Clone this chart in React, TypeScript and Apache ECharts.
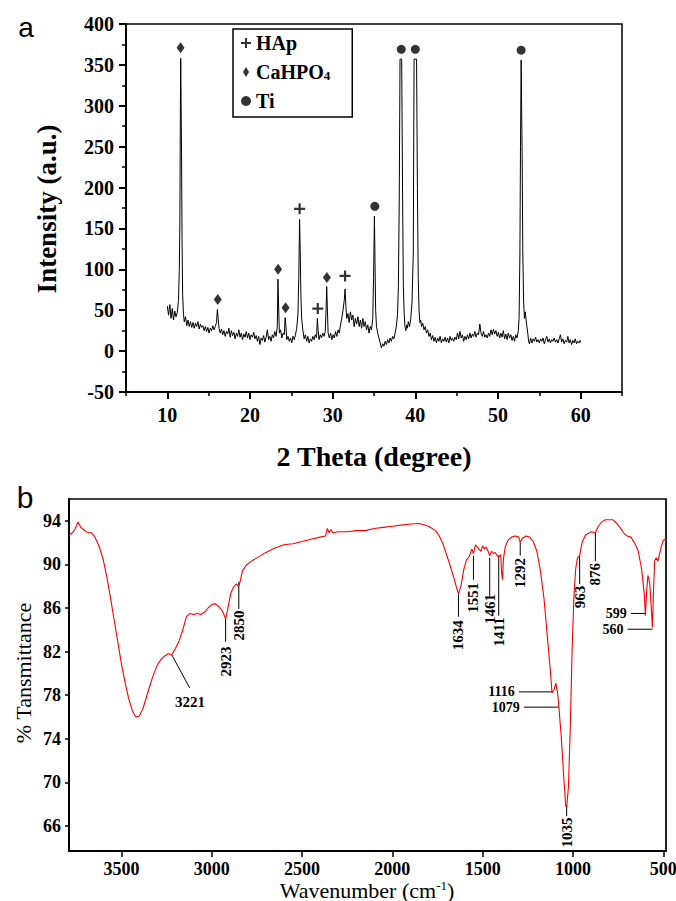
import { useEffect, useRef } from 'react';
import * as echarts from 'echarts';

const SERIF = '"Times New Roman", "Liberation Serif", serif';
const SANS = 'Arial, "Liberation Sans", sans-serif';

// ---- Panel a: XRD pattern [2theta, intensity] ----
const xrdPattern: number[][] = [
  [10.0, 55], [10.15, 44], [10.3, 57], [10.45, 40], [10.6, 52], [10.75, 38], [10.9, 49], [11.05, 42], [11.2, 47],
  [11.35, 62], [11.45, 100], [11.52, 160], [11.58, 300], [11.62, 358], [11.68, 358], [11.72, 240], [11.78, 138],
  [11.85, 70], [11.95, 45], [12.05, 36], [12.2, 42], [12.35, 31], [12.5, 38], [12.65, 30], [12.8, 36], [12.95, 29],
  [13.1, 35], [13.25, 28], [13.4, 34], [13.55, 30], [13.7, 36], [13.85, 27], [14.0, 33], [14.15, 29], [14.3, 31],
  [14.45, 25], [14.6, 30], [14.75, 24], [14.9, 29], [15.05, 22], [15.2, 28], [15.35, 25], [15.5, 31], [15.65, 26],
  [15.8, 30], [15.95, 35], [16.05, 51], [16.15, 40], [16.25, 28], [16.4, 22], [16.55, 27], [16.7, 20], [16.85, 25],
  [17.0, 18], [17.15, 24], [17.3, 21], [17.45, 28], [17.6, 17], [17.75, 25], [17.9, 19], [18.05, 23], [18.2, 15],
  [18.35, 22], [18.5, 18], [18.65, 26], [18.8, 17], [18.95, 22], [19.1, 14], [19.25, 21], [19.4, 17], [19.55, 24],
  [19.7, 16], [19.85, 22], [20.0, 14], [20.15, 20], [20.3, 17], [20.45, 23], [20.6, 15], [20.75, 19], [20.9, 12],
  [21.05, 18], [21.2, 8], [21.35, 16], [21.5, 13], [21.65, 19], [21.8, 11], [21.95, 17], [22.1, 26], [22.25, 14],
  [22.4, 18], [22.55, 12], [22.7, 20], [22.85, 16], [23.0, 24], [23.15, 18], [23.3, 30], [23.38, 88], [23.45, 60],
  [23.55, 22], [23.7, 26], [23.85, 16], [24.0, 22], [24.15, 20], [24.25, 41], [24.35, 30], [24.45, 14], [24.6, 18],
  [24.75, 12], [24.9, 16], [25.05, 10], [25.2, 18], [25.35, 14], [25.5, 20], [25.65, 28], [25.8, 45], [25.9, 90],
  [26.0, 161], [26.08, 120], [26.15, 70], [26.25, 40], [26.4, 25], [26.55, 15], [26.7, 20], [26.85, 12], [27.0, 18],
  [27.15, 10], [27.3, 15], [27.45, 12], [27.6, 18], [27.75, 14], [27.9, 20], [28.05, 16], [28.15, 40], [28.25, 25],
  [28.35, 14], [28.5, 20], [28.65, 16], [28.8, 22], [28.95, 18], [29.1, 24], [29.2, 50], [29.28, 79], [29.35, 55],
  [29.45, 22], [29.6, 16], [29.75, 22], [29.9, 14], [30.05, 20], [30.2, 16], [30.35, 24], [30.5, 18], [30.65, 26],
  [30.8, 22], [30.95, 32], [31.1, 40], [31.25, 50], [31.4, 62], [31.5, 76], [31.6, 55], [31.7, 40], [31.85, 46],
  [32.0, 35], [32.15, 48], [32.3, 38], [32.45, 44], [32.6, 30], [32.75, 40], [32.9, 33], [33.05, 42], [33.2, 30],
  [33.35, 38], [33.5, 28], [33.65, 40], [33.8, 30], [33.95, 36], [34.1, 26], [34.25, 32], [34.4, 22], [34.55, 30],
  [34.7, 26], [34.85, 40], [34.95, 90], [35.05, 165], [35.12, 110], [35.2, 50], [35.3, 30], [35.45, 22], [35.6, 16],
  [35.75, 10], [35.9, 4], [36.05, 9], [36.2, 6], [36.35, 12], [36.5, 8], [36.65, 14], [36.8, 10], [36.95, 16],
  [37.1, 12], [37.25, 18], [37.4, 15], [37.55, 22], [37.7, 30], [37.85, 45], [37.95, 80], [38.05, 180], [38.15, 357],
  [38.35, 357], [38.45, 200], [38.55, 80], [38.65, 45], [38.75, 30], [38.85, 25], [38.95, 32], [39.05, 28], [39.15, 36],
  [39.3, 30], [39.45, 40], [39.6, 60], [39.75, 120], [39.85, 357], [40.15, 357], [40.25, 200], [40.35, 90], [40.45, 50],
  [40.55, 35], [40.65, 38], [40.75, 30], [40.9, 34], [41.05, 26], [41.2, 30], [41.35, 22], [41.5, 26], [41.65, 18],
  [41.8, 22], [41.95, 14], [42.1, 19], [42.25, 12], [42.4, 17], [42.55, 10], [42.7, 16], [42.85, 12], [43.0, 18],
  [43.15, 10], [43.3, 15], [43.45, 12], [43.6, 17], [43.75, 11], [43.9, 16], [44.05, 10], [44.2, 18], [44.35, 13],
  [44.5, 16], [44.65, 12], [44.8, 17], [44.95, 14], [45.1, 22], [45.25, 15], [45.4, 24], [45.55, 16], [45.7, 20],
  [45.85, 12], [46.0, 18], [46.15, 14], [46.3, 20], [46.45, 15], [46.6, 22], [46.75, 16], [46.9, 21], [47.05, 18],
  [47.2, 24], [47.35, 17], [47.5, 22], [47.65, 20], [47.8, 33], [47.95, 22], [48.1, 18], [48.25, 24], [48.4, 17],
  [48.55, 20], [48.7, 16], [48.85, 22], [49.0, 18], [49.15, 26], [49.3, 20], [49.45, 27], [49.6, 21], [49.75, 25],
  [49.9, 18], [50.05, 23], [50.2, 16], [50.35, 22], [50.5, 17], [50.65, 25], [50.8, 15], [50.95, 21], [51.1, 14],
  [51.25, 22], [51.4, 16], [51.55, 20], [51.7, 13], [51.85, 18], [52.0, 12], [52.15, 20], [52.3, 16], [52.45, 24],
  [52.55, 40], [52.65, 120], [52.72, 250], [52.8, 356], [52.85, 356], [52.92, 240], [53.0, 120], [53.1, 60],
  [53.2, 40], [53.3, 48], [53.4, 38], [53.5, 30], [53.6, 22], [53.7, 12], [53.8, 9], [53.95, 16], [54.1, 10],
  [54.25, 15], [54.4, 12], [54.55, 17], [54.7, 11], [54.85, 14], [55.0, 10], [55.15, 15], [55.3, 12], [55.45, 16],
  [55.6, 9], [55.75, 14], [55.9, 18], [56.05, 11], [56.2, 15], [56.35, 10], [56.5, 14], [56.65, 12], [56.8, 16],
  [56.95, 11], [57.1, 14], [57.25, 10], [57.4, 15], [57.55, 20], [57.7, 11], [57.85, 15], [58.0, 9], [58.15, 13],
  [58.3, 11], [58.45, 18], [58.6, 10], [58.75, 14], [58.9, 8], [59.05, 13], [59.2, 10], [59.35, 15], [59.5, 9],
  [59.65, 12], [59.8, 10], [59.95, 13], [60.0, 11],
];

const hapMarkers: number[][] = [[26.0, 174], [28.2, 52], [31.5, 92]];
const cahpo4Markers: number[][] = [[11.6, 371], [16.1, 63], [23.4, 100], [24.3, 53], [29.3, 90]];
const tiMarkers: number[][] = [[35.1, 177], [38.3, 369], [40.0, 369], [52.8, 368]];

const xrdTickValues = [10, 20, 30, 40, 50, 60];

// ---- Panel b: FTIR spectrum [wavenumber, %T] ----
const ftirSpectrum: number[][] = [
  [3790, 92.7], [3770, 92.9], [3755, 93.3], [3740, 93.9], [3725, 93.4], [3710, 93.2], [3695, 93.0], [3680, 92.9],
  [3665, 92.9], [3650, 92.6], [3635, 92.1], [3620, 91.5], [3600, 90.4], [3580, 88.8], [3560, 86.9], [3540, 84.9],
  [3520, 82.9], [3500, 80.9], [3480, 79.2], [3460, 77.7], [3440, 76.6], [3420, 76.0], [3400, 76.1], [3380, 76.8],
  [3360, 77.9], [3340, 79.0], [3320, 80.0], [3300, 80.8], [3280, 81.3], [3260, 81.6], [3240, 81.8], [3221, 81.7],
  [3200, 82.3], [3180, 83.0], [3160, 84.0], [3140, 85.2], [3120, 85.5], [3100, 85.4], [3080, 85.5], [3060, 85.4],
  [3040, 85.6], [3020, 86.0], [3000, 86.3], [2980, 86.4], [2960, 86.1], [2940, 85.7], [2923, 85.0], [2910, 86.0],
  [2895, 87.3], [2880, 87.9], [2865, 88.2], [2850, 88.0], [2840, 88.6], [2830, 89.4], [2810, 89.9], [2780, 90.3],
  [2750, 90.6], [2700, 91.1], [2650, 91.5], [2600, 91.8], [2550, 91.9], [2500, 92.1], [2450, 92.3], [2400, 92.5],
  [2370, 92.6], [2360, 93.3], [2350, 92.9], [2340, 93.2], [2330, 92.9], [2300, 93.0], [2250, 93.0], [2200, 93.1],
  [2150, 93.1], [2100, 93.3], [2050, 93.4], [2000, 93.5], [1950, 93.6], [1900, 93.7], [1850, 93.75], [1800, 93.5],
  [1760, 93.1], [1740, 92.6], [1720, 91.9], [1700, 90.9], [1680, 89.9], [1660, 88.8], [1645, 87.9], [1634, 87.3],
  [1620, 88.0], [1605, 89.5], [1590, 90.4], [1575, 90.7], [1560, 91.4], [1551, 91.0], [1540, 91.8], [1530, 91.6],
  [1520, 91.4], [1510, 91.2], [1500, 91.7], [1490, 91.4], [1480, 91.6], [1470, 91.2], [1461, 90.8], [1450, 91.2],
  [1440, 91.0], [1430, 91.1], [1420, 90.8], [1411, 90.7], [1400, 90.9], [1395, 89.2], [1390, 88.6], [1385, 90.5],
  [1375, 91.6], [1360, 92.2], [1340, 92.5], [1320, 92.6], [1300, 92.5], [1292, 92.0], [1280, 92.4], [1260, 92.6],
  [1240, 92.5], [1220, 92.1], [1200, 91.2], [1180, 89.4], [1160, 86.8], [1140, 83.0], [1125, 80.2], [1116, 78.2],
  [1105, 78.5], [1095, 79.1], [1085, 78.2], [1079, 77.1], [1065, 74.2], [1050, 70.2], [1040, 67.8], [1035, 67.7],
  [1025, 69.6], [1015, 75.0], [1005, 82.0], [995, 87.0], [985, 89.6], [975, 90.6], [963, 90.8], [950, 92.0],
  [930, 92.7], [900, 93.0], [876, 92.9], [860, 93.5], [840, 93.9], [820, 94.1], [800, 94.1], [780, 94.1],
  [760, 93.8], [740, 93.4], [720, 92.9], [700, 92.6], [680, 92.5], [660, 92.0], [640, 91.3], [620, 89.6],
  [605, 87.2], [599, 85.3], [592, 87.6], [585, 89.0], [575, 88.3], [565, 85.6], [560, 84.2], [555, 87.2],
  [548, 90.3], [540, 90.6], [530, 90.3], [520, 91.0], [510, 91.7], [500, 92.2], [490, 92.3], [485, 92.2],
];

const ftirXTicks = [500, 1000, 1500, 2000, 2500, 3000, 3500];
const ftirYTicks = [66, 70, 74, 78, 82, 86, 90, 94];

// vertical peak annotations
const vLabels = ['2923', '2850', '1634', '1551', '1461', '1411', '1292', '963', '876', '1035'];
const vWavenumber = [2923, 2850, 1634, 1551, 1461, 1411, 1292, 963, 876, 1035];
const vLineTop = [85.1, 88.4, 87.25, 90.8, 90.6, 90.8, 92.0, 90.8, 92.9, 67.8];
const vLineBottom = [82.9, 85.9, 85.2, 88.6, 87.1, 85.3, 90.8, 88.2, 90.3, 66.9];
const vLabelPos = [81.1, 84.4, 83.5, 86.95, 85.9, 83.8, 89.2, 87.0, 89.1, 65.4];

// horizontal peak annotations
const hLabels = ['1116', '1079', '599', '560'];
const hLevel = [78.3, 76.9, 85.5, 84.05];
const hFrom = [1300, 1272, 680, 698];
const hTo = [1116, 1079, 599, 560];

// diagonal annotation (3221)
const dLabel = '3221';
const dFrom = [3221, 81.7];
const dTo = [3122, 78.67];
const dLabelAt = [3120, 77.4];

const PLUS = 'path://M4,0 L6,0 L6,4 L10,4 L10,6 L6,6 L6,10 L4,10 L4,6 L0,6 L0,4 L4,4 Z';
const DIAMOND = 'path://M3,0 L6,5 L3,10 L0,5 Z';

export default function App() {
  const ref = useRef<HTMLDivElement>(null);

  useEffect(() => {
    if (!ref.current) return;
    const chart = echarts.init(ref.current, undefined, { renderer: 'svg' });
    const black = '#000';
    const labelFont = (size: number) => ({
      fontFamily: SERIF, fontWeight: 'bold' as const, fontSize: size, color: black,
    });
    const annFont = `bold 15px ${SERIF}`;
    const hAnnFont = `bold 14px ${SERIF}`;
    const plain = (v: number) => String(v);

    const option: any = {
      animation: false,
      backgroundColor: '#fff',
      grid: [
        {
          left: 126, right: 54, top: 24, height: 368, show: true, borderColor: black, borderWidth: 1.5,
          backgroundColor: 'transparent', containLabel: false, outerBoundsMode: 'none',
        },
        {
          left: 69, right: 10, top: 499, height: 352, show: true, borderColor: black, borderWidth: 1.7,
          backgroundColor: 'transparent', containLabel: false, outerBoundsMode: 'none',
        },
      ],
      legend: {
        data: [
          { name: 'HAp', icon: PLUS },
          { name: 'CaHPO4', icon: DIAMOND },
          { name: 'Ti', icon: 'circle' },
        ],
        orient: 'vertical',
        left: 233,
        top: 29,
        padding: [4, 22, 6, 8],
        itemGap: 9,
        itemWidth: 10,
        itemHeight: 10,
        selectedMode: false,
        borderColor: black,
        borderWidth: 1.5,
        borderRadius: 0,
        formatter: (n: string) => (n === 'CaHPO4' ? '{b|CaHPO}{s|4}' : `{b|${n}}`),
        textStyle: {
          rich: {
            b: { ...labelFont(20), lineHeight: 20 },
            s: { ...labelFont(13), lineHeight: 20, verticalAlign: 'bottom', padding: [6, 0, 0, 0] },
          },
        },
      },
      xAxis: [
        {
          gridIndex: 0, type: 'value', position: 'bottom', min: 5, max: 65,
          axisLine: { show: true, onZero: false, lineStyle: { color: black, width: 2 } },
          axisTick: { show: true, customValues: xrdTickValues, length: 7, lineStyle: { color: black, width: 2 } },
          axisLabel: { customValues: xrdTickValues, margin: 13, formatter: plain, ...labelFont(20) },
          splitLine: { show: false },
        },
        {
          gridIndex: 0, type: 'value', position: 'bottom', min: 5, max: 65, interval: 5,
          axisLine: { show: false, onZero: false },
          axisTick: { show: true, length: 4, lineStyle: { color: black, width: 1.5 } },
          axisLabel: { show: false },
          splitLine: { show: false },
        },
        {
          gridIndex: 1, type: 'value', position: 'bottom', min: 485, max: 3790, inverse: true,
          axisLine: { show: true, onZero: false, lineStyle: { color: black, width: 2 } },
          axisTick: { show: true, customValues: ftirXTicks, length: 6, lineStyle: { color: black, width: 1.5 } },
          axisLabel: { customValues: ftirXTicks, margin: 9, formatter: plain, ...labelFont(18) },
          splitLine: { show: false },
        },
      ],
      yAxis: [
        {
          gridIndex: 0, type: 'value', min: -50, max: 400, interval: 50,
          axisLine: { show: true, onZero: false, lineStyle: { color: black, width: 2 } },
          axisTick: { show: true, length: 7, lineStyle: { color: black, width: 2 } },
          minorTick: { show: true, splitNumber: 2, length: 4, lineStyle: { color: black, width: 1.5 } },
          axisLabel: { margin: 12, formatter: plain, ...labelFont(20) },
          splitLine: { show: false },
          minorSplitLine: { show: false },
        },
        {
          gridIndex: 1, type: 'value', min: 63.7, max: 96,
          axisLine: { show: true, onZero: false, lineStyle: { color: black, width: 2 } },
          axisTick: { show: true, customValues: ftirYTicks, length: 4, lineStyle: { color: black, width: 1.5 } },
          axisLabel: { customValues: ftirYTicks, margin: 8, formatter: plain, ...labelFont(18) },
          splitLine: { show: false },
        },
      ],
      series: [
        {
          name: 'XRD', type: 'line', xAxisIndex: 0, yAxisIndex: 0, data: xrdPattern,
          showSymbol: false, symbol: 'none', lineStyle: { color: black, width: 1 }, silent: true,
        },
        {
          name: 'HAp', type: 'scatter', xAxisIndex: 0, yAxisIndex: 0, data: hapMarkers,
          symbol: PLUS, symbolSize: 11, itemStyle: { color: black }, silent: true,
        },
        {
          name: 'CaHPO4', type: 'scatter', xAxisIndex: 0, yAxisIndex: 0, data: cahpo4Markers,
          symbol: 'diamond', symbolSize: [8, 11], itemStyle: { color: black }, silent: true,
        },
        {
          name: 'Ti', type: 'scatter', xAxisIndex: 0, yAxisIndex: 0, data: tiMarkers,
          symbol: 'circle', symbolSize: 9, itemStyle: { color: black }, silent: true,
        },
        {
          name: 'FTIR', type: 'line', xAxisIndex: 2, yAxisIndex: 1, data: ftirSpectrum,
          showSymbol: false, symbol: 'none', lineStyle: { color: '#ff0000', width: 1.1 }, silent: true,
        },
        {
          name: 'vAnn', type: 'custom', xAxisIndex: 2, yAxisIndex: 1, silent: true,
          data: vWavenumber.map((w, i) => [w, vLineTop[i], vLineBottom[i], vLabelPos[i]]),
          renderItem: (params: any, api: any) => {
            const w = api.value(0);
            const p1 = api.coord([w, api.value(1)]);
            const p2 = api.coord([w, api.value(2)]);
            const pl = api.coord([w, api.value(3)]);
            return {
              type: 'group',
              children: [
                { type: 'line', shape: { x1: p1[0], y1: p1[1], x2: p2[0], y2: p2[1] }, style: { stroke: black, lineWidth: 1 } },
                {
                  type: 'text', x: pl[0], y: pl[1], rotation: Math.PI / 2,
                  style: { text: vLabels[params.dataIndex], font: annFont, fill: black, align: 'center', verticalAlign: 'middle' },
                },
              ],
            };
          },
        },
        {
          name: 'hAnn', type: 'custom', xAxisIndex: 2, yAxisIndex: 1, silent: true,
          data: hLevel.map((v, i) => [hFrom[i], hTo[i], v]),
          renderItem: (params: any, api: any) => {
            const p1 = api.coord([api.value(0), api.value(2)]);
            const p2 = api.coord([api.value(1), api.value(2)]);
            return {
              type: 'group',
              children: [
                { type: 'line', shape: { x1: p1[0], y1: p1[1], x2: p2[0], y2: p2[1] }, style: { stroke: black, lineWidth: 1 } },
                {
                  type: 'text', x: p1[0] - 4, y: p1[1],
                  style: { text: hLabels[params.dataIndex], font: hAnnFont, fill: black, align: 'right', verticalAlign: 'middle' },
                },
              ],
            };
          },
        },
        {
          name: 'dAnn', type: 'custom', xAxisIndex: 2, yAxisIndex: 1, silent: true,
          data: [[dFrom[0], dFrom[1], dTo[0], dTo[1], dLabelAt[0], dLabelAt[1]]],
          renderItem: (_params: any, api: any) => {
            const p1 = api.coord([api.value(0), api.value(1)]);
            const p2 = api.coord([api.value(2), api.value(3)]);
            const pl = api.coord([api.value(4), api.value(5)]);
            return {
              type: 'group',
              children: [
                { type: 'line', shape: { x1: p1[0], y1: p1[1], x2: p2[0], y2: p2[1] }, style: { stroke: black, lineWidth: 1 } },
                {
                  type: 'text', x: pl[0], y: pl[1],
                  style: { text: dLabel, font: annFont, fill: black, align: 'center', verticalAlign: 'middle' },
                },
              ],
            };
          },
        },
      ],
      graphic: [
        { type: 'text', x: 26, y: 27, style: { text: 'a', font: `28px ${SANS}`, fill: black, align: 'center', verticalAlign: 'middle' } },
        { type: 'text', x: 25, y: 497, style: { text: 'b', font: `30px ${SANS}`, fill: black, align: 'center', verticalAlign: 'middle' } },
        {
          type: 'text', x: 47, y: 209, rotation: Math.PI / 2,
          style: { text: 'Intensity (a.u.)', font: `bold 27px ${SERIF}`, fill: black, align: 'center', verticalAlign: 'middle' },
        },
        {
          type: 'text', x: 374, y: 456,
          style: { text: '2 Theta (degree)', font: `bold 28px ${SERIF}`, fill: black, align: 'center', verticalAlign: 'middle' },
        },
        {
          type: 'text', x: 23, y: 673, rotation: Math.PI / 2,
          style: { text: '% Tansmittance', font: `22px ${SERIF}`, fill: black, align: 'center', verticalAlign: 'middle' },
        },
        {
          type: 'text', x: 367, y: 890,
          style: {
            text: 'Wavenumber (cm{sup|-1})',
            font: `22px ${SERIF}`, fill: black, align: 'center', verticalAlign: 'middle',
            rich: { sup: { fontFamily: SERIF, fontSize: 13, fill: black, verticalAlign: 'top', padding: [0, 0, 8, 0] } },
          },
        },
      ],
    };

    chart.setOption(option);
    return () => chart.dispose();
  }, []);

  return (
    <div
      ref={ref}
      style={{ position: 'absolute', left: 0, top: 0, width: 676, height: 901, background: '#fff' }}
    />
  );
}
